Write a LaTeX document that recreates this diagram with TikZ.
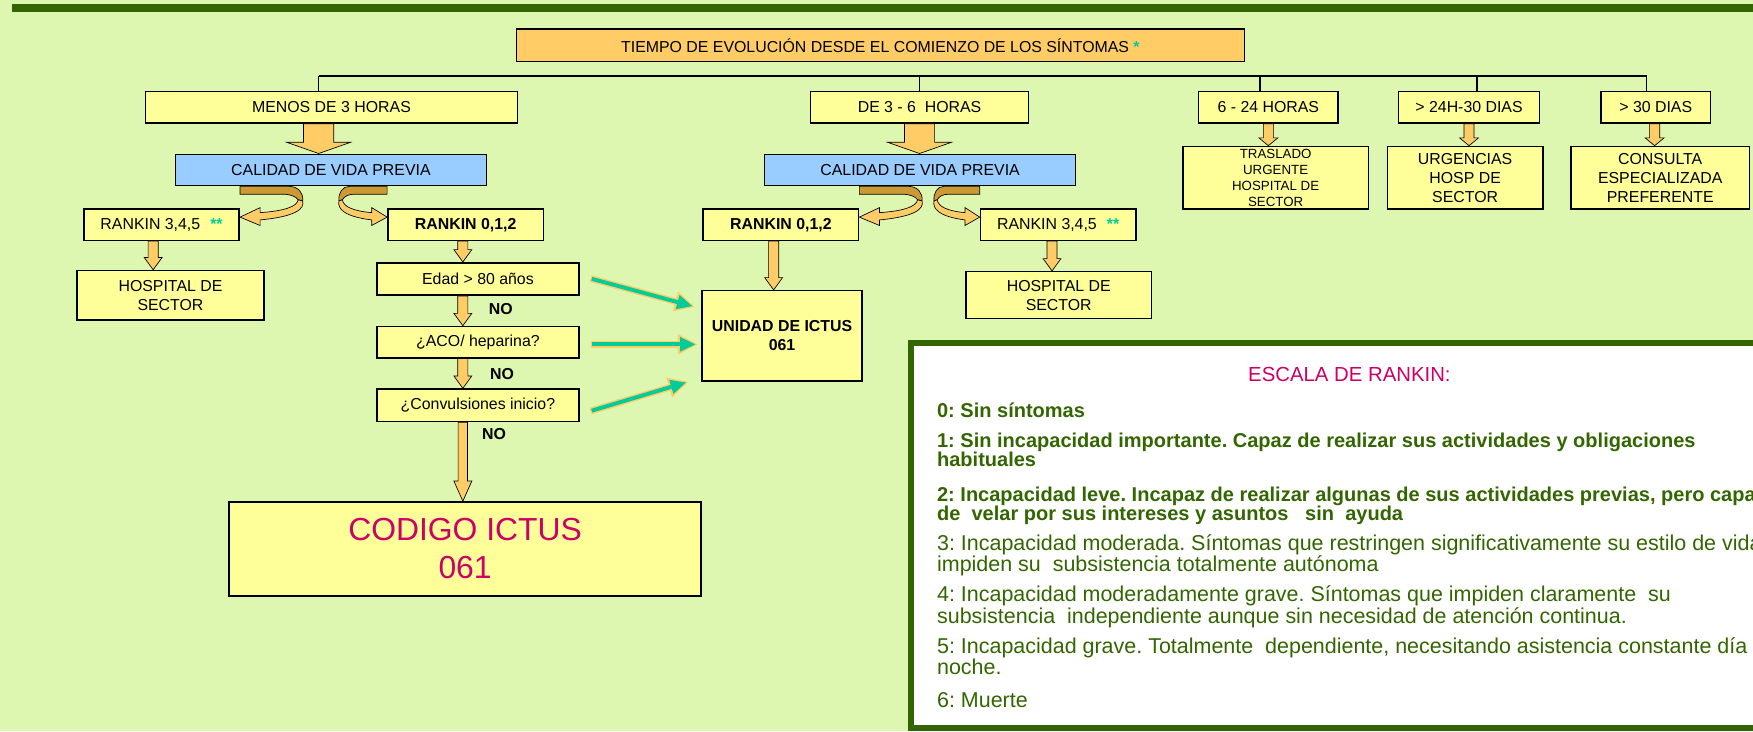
\documentclass[tikz,border=0pt]{standalone}
\usepackage{fontspec}
\setmainfont{Liberation Sans}
\usetikzlibrary{calc,arrows.meta}
\frenchspacing

\definecolor{fondo}{RGB}{221,247,177}
\definecolor{verdeosc}{RGB}{51,102,0}
\definecolor{amarillo}{RGB}{255,255,153}
\definecolor{azul}{RGB}{153,204,255}
\definecolor{naranja}{RGB}{255,204,102}
\definecolor{canela}{RGB}{204,153,51}
\definecolor{verdeagua}{RGB}{0,204,153}
\definecolor{fucsia}{RGB}{204,0,102}

\newcommand\cajafont{\fontsize{14.2}{17}\selectfont}
\newcommand\chicafont{\fontsize{11.9}{14.3}\selectfont}
\newcommand\grandefont{\fontsize{28.5}{34}\selectfont}
\newcommand\leyfont{\fontsize{19.2}{17}\selectfont}
\newcommand\leynegfont{\fontsize{17.9}{17}\selectfont\bfseries}
\newcommand\asterisco[1]{{\color{verdeagua}\bfseries #1}}

\tikzset{
  caja/.style={draw=black, line width=1.4pt, fill=amarillo, inner sep=0pt, align=center, font=\cajafont},
  nota/.style={inner sep=0pt, font=\cajafont\bfseries},
  linea/.style={draw=black, line width=1.2pt},
  flecha/.style={draw=black, line width=0.6pt, fill=naranja,
    to path={let \p1=(\tikztostart), \p2=(\tikztotarget) in
      (\x1-\shaftw,\y1) -- (\x1-\shaftw,\y2+\headl) -- (\x1-\headw,\y2+\headl) -- (\x1,\y2)
      -- (\x1+\headw,\y2+\headl) -- (\x1+\shaftw,\y2+\headl) -- (\x1+\shaftw,\y1) -- cycle}},
  ancha/.code={\def\shaftw{13.5}\def\headw{28.5}\def\headl{10}},
  corta/.code={\def\shaftw{4.5}\def\headw{8.5}\def\headl{7}},
  fina/.code={\def\shaftw{4.5}\def\headw{8}\def\headl{11}},
  larga/.code={\def\shaftw{4.2}\def\headw{8}\def\headl{18}},
  brillo/.style={draw=naranja, line width=6pt, -{Triangle[length=18pt,width=17pt]}},
  turquesa/.style={draw=verdeagua, line width=3.5pt, -{Triangle[length=14pt,width=12pt]}},
  cinta/.pic={
    \filldraw[fill=canela, draw=black, line width=0.6pt] (0,0) -- (44,0) .. controls (52,0) and (57,6) .. (56,13)
      -- (52,12) .. controls (50,9) and (45,7) .. (38,7) -- (0,7) -- cycle;
    \filldraw[fill=naranja, draw=black, line width=0.6pt] (56,13) .. controls (58,20) and (50,27) .. (18,30)
      -- (18,35) -- (0,27.5) -- (18,19) -- (18,23.5) .. controls (40,22) and (51,18) .. (52,12) -- cycle;
  },
  titulo/.style={inner sep=0pt, text=fucsia, font=\fontsize{18.2}{20}\selectfont},
  leyenda/.style={anchor=base west, align=left, inner sep=0pt, text=verdeosc, font=\leyfont},
}

\begin{document}
\begin{tikzpicture}[x=1pt,y=-1pt]
\useasboundingbox (0,0) rectangle (1568,654);
\clip (0,0) rectangle (1568,654);
\fill[fondo] (0,0) rectangle (1568,654);
\fill[verdeosc] (11,3.5) rectangle (1568,11);

\node[caja, fill=naranja, minimum width=651, minimum height=29] (tiempo) at (787.5,40.5) {TIEMPO DE EVOLUCIÓN DESDE EL COMIENZO DE LOS SÍNTOMAS \asterisco{*}};
\node[caja, minimum width=333, minimum height=28] (menos3) at (296.5,96) {MENOS DE 3 HORAS};
\node[caja, minimum width=195, minimum height=28] (de36) at (822.5,96) {DE 3 - 6 \ HORAS};
\node[caja, minimum width=125, minimum height=28] (h624) at (1134.5,96) {6 - 24 HORAS};
\node[caja, minimum width=126, minimum height=28] (h24d30) at (1314,96) {> 24H-30 DIAS};
\node[caja, minimum width=98, minimum height=28] (mas30) at (1481,96) {> 30 DIAS};
\node[caja, font=\chicafont, minimum width=166, minimum height=56] (traslado) at (1141,159) {TRASLADO\\URGENTE\\HOSPITAL DE\\SECTOR};
\node[caja, minimum width=139, minimum height=56] (urgencias) at (1310.5,159) {URGENCIAS\\HOSP DE\\SECTOR};
\node[caja, minimum width=160, minimum height=56] (consulta) at (1485,159) {CONSULTA\\ESPECIALIZADA\\PREFERENTE};

\node[caja, fill=azul, minimum width=278, minimum height=28] (calL) at (296,152) {CALIDAD DE VIDA PREVIA};
\node[caja, fill=azul, minimum width=278, minimum height=28] (calR) at (823,152) {CALIDAD DE VIDA PREVIA};

\node[caja, minimum width=139, minimum height=28] (r345L) at (144.5,201) {RANKIN 3,4,5\hspace{9pt}\asterisco{**}};
\node[caja, font=\cajafont\bfseries, minimum width=139, minimum height=28] (r012L) at (416.5,201) {RANKIN 0,1,2};
\node[caja, font=\cajafont\bfseries, minimum width=139, minimum height=28] (r012R) at (698.5,201) {RANKIN 0,1,2};
\node[caja, minimum width=139, minimum height=28] (r345R) at (946.5,201) {RANKIN 3,4,5\hspace{9pt}\asterisco{**}};

\node[caja, minimum width=167, minimum height=44] (hospL) at (152.5,264) {HOSPITAL DE\\SECTOR};
\node[caja, minimum width=181, minimum height=29] (edad) at (427.5,249.5) {Edad > 80 años};
\node[caja, minimum width=181, minimum height=28] (aco) at (427.5,306) {¿ACO/ heparina?};
\node[caja, minimum width=181, minimum height=29] (convul) at (427.5,362.5) {¿Convulsiones inicio?};
\node[caja, font=\grandefont, text=fucsia, minimum width=422, minimum height=84] (codigo) at (416,491) {CODIGO ICTUS\\061};
\node[nota] (no1) at (448,276) {NO};
\node[nota] (no2) at (449,335) {NO};
\node[nota] (no3) at (442,388) {NO};

\node[caja, font=\cajafont\bfseries, minimum width=143, minimum height=81] (unidad) at (699.5,300.5) {UNIDAD DE ICTUS\\061};
\node[caja, minimum width=166, minimum height=42] (hospR) at (947,264) {HOSPITAL DE\\SECTOR};

\coordinate (bus) at (285,68);
\draw[linea] ([xshift=-11.5pt]menos3.north) -- (bus);
\draw[linea] (de36.north) |- (bus);
\draw[linea] ([xshift=-7.5pt]h624.north) |- (bus);
\draw[linea] ([xshift=7pt]h24d30.north) |- (bus);
\draw[linea] ([xshift=-8pt]mas30.north) |- (bus);

\draw[flecha, ancha] ([xshift=-11.5pt]menos3.south) to (calL.north);
\draw[flecha, ancha] (de36.south) to (calR.north);
\draw[flecha, corta] (h624.south) to (traslado.north);
\draw[flecha, corta] (h24d30.south) to (urgencias.north);
\draw[flecha, corta] ([xshift=-1pt]mas30.south) to (consulta.north);
\draw[flecha, fina] ([xshift=-7.5pt]r345L.south) to (hospL.north);
\draw[flecha, fina] ([xshift=-2.5pt]r012L.south) to (edad.north);
\draw[flecha, fina] ([xshift=-13.5pt]edad.south) to (aco.north);
\draw[flecha, fina] ([xshift=-13.5pt]aco.south) to (convul.north);
\draw[flecha, larga] ([xshift=-13.5pt]convul.south) to (codigo.north);
\draw[flecha, fina] ([xshift=-6.5pt]r012R.south) to (unidad.north);
\draw[flecha, fina] ([xshift=-5.5pt]r345R.south) to (hospR.north);

\pic at (r345L.east |- calL.south) {cinta};
\pic[xscale=-0.77] at (r012L.west |- calL.south) {cinta};
\pic at (r012R.east |- calR.south) {cinta};
\pic[xscale=-0.73] at (r345R.west |- calR.south) {cinta};

\draw[brillo, shorten <=10pt, shorten >=6pt] ([yshift=3pt]edad.east) -- ([yshift=24.5pt]unidad.west);
\draw[turquesa, shorten <=11pt, shorten >=8pt] ([yshift=3pt]edad.east) -- ([yshift=24.5pt]unidad.west);
\draw[brillo, shorten <=10pt, shorten >=3pt] ([yshift=-2pt]aco.east) -- ([yshift=-7.5pt]unidad.west);
\draw[turquesa, shorten <=11pt, shorten >=5pt] ([yshift=-2pt]aco.east) -- ([yshift=-7.5pt]unidad.west);
\draw[brillo, shorten <=10pt, shorten >=12pt] ([yshift=-8pt]convul.east) -- ([yshift=-37.5pt]unidad.west);
\draw[turquesa, shorten <=11pt, shorten >=14pt] ([yshift=-8pt]convul.east) -- ([yshift=-37.5pt]unidad.west);

\draw[verdeosc, line width=5pt, fill=white] (815,307) rectangle (1580,651);
\node[titulo] (escala) at (1207,335) {ESCALA DE RANKIN:};
\node[leyenda, font=\leynegfont] (rk0) at (838,373.5) {0: Sin síntomas};
\node[leyenda, font=\leynegfont] (rk1) at (838,417.5) {1: Sin incapacidad importante. Capaz de realizar sus actividades y obligaciones\\habituales};
\node[leyenda, font=\leynegfont] (rk2) at (838,465.5) {2: Incapacidad leve. Incapaz de realizar algunas de sus actividades previas, pero capaz\\de \ velar por sus intereses y asuntos \ \ sin \ ayuda};
\node[leyenda] (rk3) at (838,511.5) {3: Incapacidad moderada. Síntomas que restringen significativamente su estilo de vida e\\impiden su \ subsistencia totalmente autónoma};
\node[leyenda] (rk4) at (838,557.5) {4: Incapacidad moderadamente grave. Síntomas que impiden claramente \ su\\subsistencia \ independiente aunque sin necesidad de atención continua.};
\node[leyenda] (rk5) at (838,603.5) {5: Incapacidad grave. Totalmente \ dependiente, necesitando asistencia constante día y\\noche.};
\node[leyenda] (rk6) at (838,632.5) {6: Muerte};
\end{tikzpicture}
\end{document}
